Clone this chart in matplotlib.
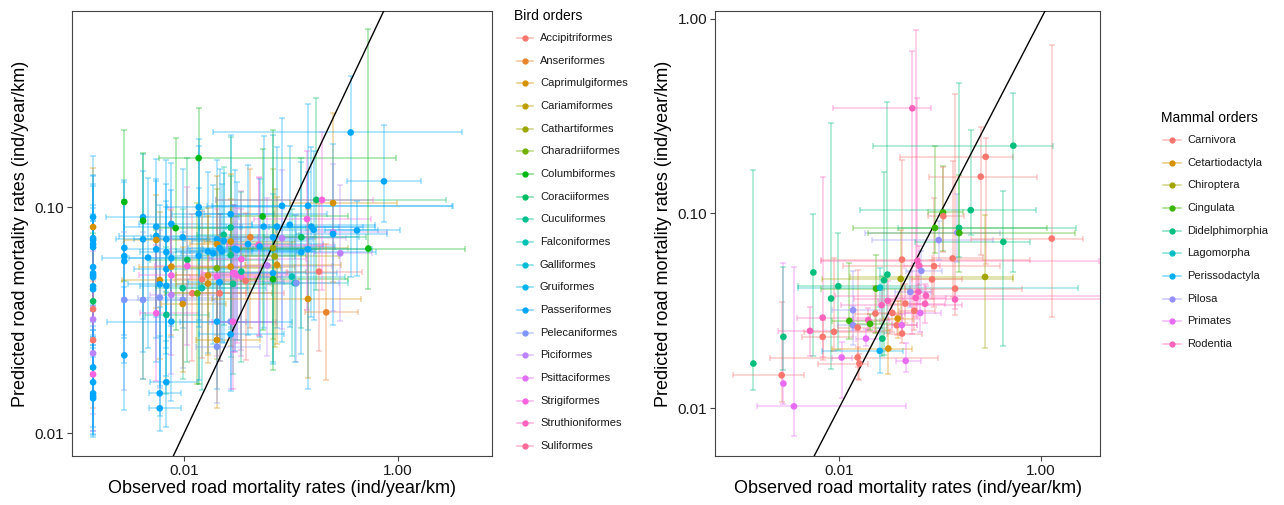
import numpy as np
import matplotlib.pyplot as plt
from matplotlib.lines import Line2D

plt.rcParams['font.family'] = ['Liberation Sans', 'DejaVu Sans']

W, H = 1284, 505

bird_orders = ['Accipitriformes', 'Anseriformes', 'Caprimulgiformes', 'Cariamiformes',
               'Cathartiformes', 'Charadriiformes', 'Columbiformes', 'Coraciiformes',
               'Cuculiformes', 'Falconiformes', 'Galliformes', 'Gruiformes',
               'Passeriformes', 'Pelecaniformes', 'Piciformes', 'Psittaciformes',
               'Strigiformes', 'Struthioniformes', 'Suliformes']
mammal_orders = ['Carnivora', 'Cetartiodactyla', 'Chiroptera', 'Cingulata',
                 'Didelphimorphia', 'Lagomorpha', 'Perissodactyla', 'Pilosa',
                 'Primates', 'Rodentia']

# all rates are log10(ind/year/km); errors are in decades below / above the estimate

# birds with no observed variation (leftmost column)
bird_floor_obs = -2.85
bird_floor_order = [12, 2, 12, 12, 12, 12, 12, 12, 12, 12, 12, 12, 7, 0, 14, 0, 14, 12, 16, 12, 12, 12, 12]
bird_floor_pred = [-1.044, -1.088, -1.137, -1.146, -1.164, -1.177, -1.265, -1.292, -1.301, -1.310,
                   -1.350, -1.363, -1.416, -1.451, -1.496, -1.588, -1.646, -1.708, -1.739, -1.774,
                   -1.823, -1.836, -1.845]
bird_floor_pred_lo = [.30, .28, .32, .30, .27, .33, .30, .28, .32, .30, .26, .30, .30, .28, .25, .30,
                      .27, .28, .25, .20, .18, .17, .17]
bird_floor_pred_hi = [.27, .26, .28, .25, .30, .27, .26, .30, .24, .28, .26, .30, .30, .28, .30, .26,
                      .30, .27, .30, .25, .28, .26, .30]

# remaining birds
bird_order = [6, 12, 12, 12, 13, 12, 12, 6, 12, 13,
              12, 12, 12, 2, 12, 16, 2, 12, 13, 12,
              12, 12, 12, 12, 12, 8, 12, 12, 12, 2,
              16, 14, 12, 6, 12, 8, 13, 2, 7, 16,
              0, 5, 6, 12, 12, 12, 9, 0, 12, 2,
              2, 12, 12, 2, 5, 16, 12, 2, 13, 12,
              12, 0, 12, 8, 12, 12, 8, 2, 8, 2,
              12, 13, 16, 8, 16, 12, 16, 12, 16, 16,
              16, 8, 0, 12, 1, 16, 17, 12, 6, 12,
              14, 12, 4, 12, 6, 4, 12, 2, 12, 14,
              12, 9, 9, 13, 7, 12, 12, 12, 2, 16,
              12, 12, 7, 0, 16, 1, 2, 14, 12, 14,
              12, 12, 6, 12]
bird_obs = [-2.558, -2.558, -2.558, -2.558, -2.558, -2.558, -2.383, -2.383, -2.383, -2.383,
            -2.336, -2.259, -2.259, -2.259, -2.259, -2.259, -2.227, -2.227, -2.227, -2.227,
            -2.227, -2.165, -2.165, -2.165, -2.165, -2.165, -2.165, -2.118, -2.118, -2.118,
            -2.118, -2.118, -2.118, -2.078, -2.012, -2.012, -2.012, -2.012, -1.969, -1.969,
            -1.922, -1.875, -1.863, -1.863, -1.863, -1.863, -1.832, -1.832, -1.776, -1.776,
            -1.776, -1.726, -1.692, -1.692, -1.692, -1.692, -1.692, -1.692, -1.692, -1.667,
            -1.667, -1.667, -1.645, -1.629, -1.629, -1.564, -1.564, -1.564, -1.564, -1.564,
            -1.564, -1.564, -1.542, -1.542, -1.542, -1.526, -1.526, -1.505, -1.505, -1.464,
            -1.464, -1.464, -1.424, -1.402, -1.380, -1.302, -1.302, -1.293, -1.265, -1.255,
            -1.221, -1.168, -1.168, -1.168, -1.168, -1.153, -1.131, -1.131, -1.084, -1.084,
            -1.012, -0.991, -0.966, -0.950, -0.903, -0.903, -0.841, -0.841, -0.841, -0.850,
            -0.810, -0.788, -0.763, -0.738, -0.710, -0.670, -0.607, -0.607, -0.607, -0.539,
            -0.442, -0.383, -0.277, -0.131]
bird_pred = [-0.977, -1.180, -1.217, -1.239, -1.410, -1.655, -1.044, -1.060, -1.142, -1.410,
             -1.223, -1.086, -1.127, -1.145, -1.186, -1.469, -1.322, -1.341, -1.400, -1.823,
             -1.889, -1.142, -1.199, -1.274, -1.348, -1.476, -1.774, -1.074, -1.226, -1.263,
             -1.302, -1.388, -1.506, -1.093, -1.133, -1.358, -1.410, -1.428, -1.233, -1.260,
             -1.381, -1.381, -0.783, -1.000, -1.029, -1.215, -1.358, -1.319, -1.196, -1.302,
             -1.338, -1.204, -1.142, -1.164, -1.270, -1.307, -1.506, -1.587, -1.617, -1.181,
             -1.332, -1.381, -1.196, -1.122, -1.149, -1.031, -1.090, -1.152, -1.212, -1.263,
             -1.562, -1.506, -1.292, -1.339, -1.506, -1.184, -1.292, -1.189, -1.302, -1.230,
             -1.307, -1.285, -1.326, -1.164, -1.133, -1.167, -1.171, -1.174, -1.041, -1.086,
             -1.258, -1.133, -1.181, -1.292, -1.319, -1.218, -1.086, -1.255, -0.994, -1.137,
             -1.078, -1.307, -1.336, -1.336, -1.133, -1.199, -0.994, -1.186, -1.406, -1.053,
             -1.086, -1.100, -0.968, -1.285, -0.968, -1.465, -0.982, -1.111, -1.119, -1.204,
             -0.670, -1.103, -1.183, -0.886]
bird_obs_lo = [0, 0, 0, 0, 0, 0, .35, 0, .25, .20,
               .43, .30, .35, .30, .30, .15, .35, .30, .20, .10,
               .10, .30, .25, .30, .25, .20, .15, .30, .40, .30,
               .30, .20, .60, .20, .30, .25, .15, .20, .35, .30,
               .20, .30, .37, .30, .25, .30, .20, .25, .30, .30,
               .30, .30, .30, .25, .30, .25, .35, .20, .20, .30,
               .30, .25, .30, .25, .30, .25, .30, .25, .30, .30,
               .30, .20, .30, .30, .20, .30, .30, .35, .30, .30,
               .25, .30, .20, .30, .30, .30, .30, .35, .30, .35,
               .25, .40, .30, .30, .30, .30, .35, .30, .70, .30,
               .35, .30, .30, .25, .35, .30, .90, .30, .90, .50,
               .40, .35, .94, .30, .99, .20, .40, .30, .35, .25,
               1.29, .30, 1.30, .35]
bird_obs_hi = [0, 0, 0, 0, 0, 0, .90, 0, .60, .40,
               .60, .80, .60, .50, .90, .40, .90, .70, .50, .20,
               .20, .70, .80, .60, .50, .40, .30, .75, .70, .65,
               .60, .45, .70, .50, .70, .60, .30, .40, .80, .70,
               .50, .70, 1.84, .80, .70, .90, .60, .50, 1.00, .60,
               .60, .80, .90, .70, .60, .60, .70, .40, .40, .80,
               .60, .60, .70, .70, .80, .90, .70, .60, .70, .60,
               .50, .40, .50, .60, .40, .80, .50, .70, .50, .60,
               .50, .60, .50, .70, .60, .70, .60, .70, .80, .70,
               .60, .80, .70, .60, .70, .60, .80, .60, 1.60, .60,
               .80, .50, .50, .40, .60, .70, 1.35, .60, .50, .60,
               .60, .60, 1.21, .40, .48, .30, .60, .50, .50, .30,
               1.04, .40, .90, .35]
bird_pred_lo = [.35, .40, .35, .45, .40, .24, .45, .70, .50, .35,
                .40, .40, .45, .30, .50, .30, .35, .45, .40, .10,
                .10, .45, .45, .35, .40, .35, .20, .45, .35, .30,
                .35, .35, .35, .45, .40, .40, .30, .30, .45, .35,
                .30, .40, 1.00, .50, .50, .55, .45, .35, .45, .35,
                .35, .40, .45, .40, .40, .35, .30, .30, .25, .40,
                .35, .30, .40, .40, .45, .50, .45, .40, .45, .35,
                .25, .30, .35, .40, .30, .45, .35, .40, .30, .40,
                .35, .40, .35, .40, .40, .40, .40, .40, .50, .45,
                .40, .55, .40, .40, .40, .40, .45, .35, .60, .40,
                .45, .35, .35, .35, .40, .45, .55, .62, .35, .40,
                .40, .40, .40, .35, .40, .30, .35, .35, .40, .30,
                .64, .20, .18, .18]
bird_pred_hi = [.32, .30, .25, .35, .30, .30, .28, .30, .30, .30,
                .35, .30, .25, .20, .30, .30, .30, .35, .30, .38,
                .32, .35, .30, .30, .35, .30, .40, .27, .30, .25,
                .30, .30, .30, .40, .30, .35, .30, .25, .45, .35,
                .35, .40, .22, .30, .30, .30, .35, .30, .35, .30,
                .30, .30, .35, .30, .35, .30, .30, .25, .30, .35,
                .30, .35, .30, .30, .30, .35, .40, .30, .35, .30,
                .35, .30, .30, .35, .30, .35, .30, .30, .30, .30,
                .30, .35, .30, .35, .30, .30, .30, .30, .30, .40,
                .30, .45, .35, .35, .66, .30, .35, .30, .39, .30,
                .35, .30, .30, .30, .35, .40, .45, .34, .40, .30,
                .35, .35, .45, .30, .30, .30, .40, .30, .40, .30,
                .25, .13, .97, .25]

# mammals
mammal_order = [4, 0, 8, 4, 8, 4, 9, 9, 0, 4,
                0, 4, 8, 3, 7, 7, 0, 0, 0, 8,
                9, 3, 0, 3, 5, 6, 9, 4, 4, 4,
                9, 1, 0, 1, 0, 2, 0, 8, 0, 0,
                8, 7, 9, 0, 9, 9, 9, 9, 7, 8,
                9, 9, 0, 0, 3, 7, 3, 0, 0, 0,
                9, 7, 4, 3, 4, 0, 0, 2, 4, 4, 0]
mammal_obs = [-2.848, -2.568, -2.551, -2.551, -2.446, -2.254, -2.287, -2.162, -2.162, -2.079,
              -2.050, -2.007, -1.974, -1.898, -1.861, -1.861, -1.815, -1.815, -1.798, -1.733,
              -1.710, -1.693, -1.640, -1.634, -1.594, -1.597, -1.578, -1.571, -1.554, -1.521,
              -1.518, -1.512, -1.472, -1.419, -1.429, -1.389, -1.376, -1.379, -1.376, -1.343,
              -1.340, -1.294, -1.274, -1.254, -1.241, -1.224, -1.215, -1.205, -1.185, -1.195,
              -1.149, -1.139, -1.079, -1.059, -1.050, -1.013, -0.970, -0.967, -0.875, -0.851,
              -0.851, -0.828, -0.812, -0.809, -0.696, -0.597, -0.548, -0.554, -0.373, -0.274, 0.106]
mammal_pred = [-1.771, -1.831, -1.874, -1.634, -1.991, -1.303, -1.603, -1.535, -1.634, -1.437,
               -1.608, -1.374, -1.740, -1.552, -1.497, -1.574, -1.586, -1.740, -1.771, -1.643,
               -1.548, -1.567, -1.514, -1.386, -1.381, -1.706, -1.471, -1.643, -1.343, -1.314,
               -1.449, -1.694, -1.511, -1.540, -1.574, -1.336, -1.237, -1.574, -1.617, -1.463,
               -1.757, -1.403, -0.460, -1.500, -1.434, -1.243, -1.403, -1.269, -1.295, -1.511,
               -1.464, -1.422, -1.339, -1.271, -1.074, -1.137, -0.995, -1.014, -1.231, -1.386,
               -1.442, -1.098, -1.074, -1.100, -0.983, -0.811, -0.709, -1.326, -1.146, -0.652, -1.129]
mammal_obs_lo = [0, .478, 0, 0, .369, 0, .313, .257, .200, 0,
                 .300, .396, .100, .175, .210, .150, .200, .868, .407, .100,
                 .150, .200, .200, .540, .810, .575, .400, 0, 0, 0,
                 .100, .561, .150, .150, .100, .783, .800, .100, .150, .150,
                 .100, .150, .789, .150, .200, .950, .100, .150, .150, .150,
                 .150, .900, .200, .900, .815, .660, .150, .150, .200, .500,
                 1.000, .910, .600, .900, 1.100, .510, .850, 1.340, .875, 1.393, .800]
mammal_obs_hi = [0, .221, 0, 0, 1.106, 0, .792, .469, .300, 0,
                 .500, .800, .100, .300, .270, .200, .300, .798, .088, .150,
                 .200, .300, .250, .340, 1.960, .234, .800, 0, 0, 0,
                 .150, .231, .200, .150, .200, 1.115, 1.270, .150, .200, .200,
                 .150, .200, .185, .200, .300, 1.800, .150, .200, .200, .200,
                 .200, 2.000, .300, .650, 1.106, .540, .200, .200, .300, .666,
                 1.600, .420, 1.160, 1.150, .646, .554, .270, .280, .264, .396, .313]
mammal_pred_lo = [.134, .137, .106, .171, .154, .430, .130, .202, .120, .360,
                  .100, .329, .206, .091, .100, .100, .262, .050, .086, .040,
                  .050, .030, .100, .230, .100, .113, .080, .090, .385, .300,
                  .100, .132, .100, .100, .050, .200, .380, .050, .050, .100,
                  .055, .080, 1.157, .100, .100, .300, .060, .100, .100, .100,
                  .100, .050, .100, .210, .130, .100, .200, .186, .200, .137,
                  .050, .150, .149, .200, .128, .400, .550, .365, .534, .648, .402]
mammal_pred_hi = [.994, .377, .622, .360, .717, .298, .123, .724, .086, .903,
                  .380, .275, .080, .295, .200, .100, .295, .055, .049, .050,
                  .060, .050, .140, .172, .100, .115, .080, .320, .554, .885,
                  .100, .094, .070, .090, .050, .250, .511, .060, .050, .100,
                  .092, .100, .296, .100, 1.377, .838, .080, .100, .100, .100,
                  .100, .050, .100, .350, .420, .100, .240, .255, .500, .998,
                  .050, .200, .746, .300, .411, .253, .097, .320, .263, .269, .995]


def hue_pal(n, c=100, l=65):
    # ggplot2 default discrete palette (HCL hues, CIE-LUV -> sRGB)
    xn, yn, zn = 95.047, 100.0, 108.883
    d = xn + 15 * yn + 3 * zn
    un, vn = 4 * xn / d, 9 * yn / d
    m = np.array([[3.240479, -1.537150, -0.498535],
                  [-0.969256, 1.875992, 0.041556],
                  [0.055648, -0.204043, 1.057311]])
    cols = []
    for h in np.linspace(15, 375, n + 1)[:n]:
        hr = np.deg2rad(h)
        u = c * np.cos(hr) / (13 * l) + un
        v = c * np.sin(hr) / (13 * l) + vn
        y = yn * ((l + 16) / 116) ** 3
        x = 9 * y * u / (4 * v)
        z = -x / 3 - 5 * y + 3 * y / v
        rgb = m @ np.array([x, y, z]) / 100
        rgb = np.where(rgb > 0.0031308, 1.055 * np.clip(rgb, 0, None) ** (1 / 2.4) - 0.055, 12.92 * rgb)
        cols.append(tuple(np.clip(rgb, 0, 1)))
    return cols


def draw_panel(ax, obs, pred, olo, ohi, plo, phi, orders, cols):
    obs, pred = np.asarray(obs, float), np.asarray(pred, float)
    olo, ohi = np.asarray(olo, float), np.asarray(ohi, float)
    plo, phi = np.asarray(plo, float), np.asarray(phi, float)
    x, y = 10 ** obs, 10 ** pred
    for i in range(len(x)):
        col = cols[orders[i]]
        ax.errorbar(x[i], y[i], yerr=[[y[i] - 10 ** (pred[i] - plo[i])], [10 ** (pred[i] + phi[i]) - y[i]]],
                    fmt='none', ecolor=col, alpha=0.38, elinewidth=1.1, capsize=2.5, capthick=1.1)
        if olo[i] + ohi[i] > 0:
            ax.errorbar(x[i], y[i], xerr=[[x[i] - 10 ** (obs[i] - olo[i])], [10 ** (obs[i] + ohi[i]) - x[i]]],
                        fmt='none', ecolor=col, alpha=0.38, elinewidth=1.1, capsize=2.5, capthick=1.1)
    return x, y


def style_axis(ax, xlim, ylim, yticks):
    ax.set_xscale('log')
    ax.set_yscale('log')
    ax.plot([1e-4, 10], [1e-4, 10], color='black', lw=1, zorder=4)
    ax.set_xlim(xlim)
    ax.set_ylim(ylim)
    ax.minorticks_off()
    ax.set_xticks([0.01, 1.0])
    ax.set_xticklabels(['0.01', '1.00'])
    ax.set_yticks(yticks)
    ax.set_yticklabels(['%.2f' % t for t in yticks])
    ax.tick_params(length=3.5, width=0.8, color='#444444', labelsize=11, labelcolor='#1a1a1a', pad=2)
    for s in ax.spines.values():
        s.set_color('#444444')
        s.set_linewidth(0.8)
    ax.set_xlabel('Observed road mortality rates (ind/year/km)', fontsize=13, labelpad=2)
    ax.set_ylabel('Predicted road mortality rates (ind/year/km)', fontsize=13, labelpad=4)


def draw_legend(fig, title, names, cols, tx, ty, y0, kx0, kx1, textx):
    fig.text(tx / W, 1 - ty / H, title, fontsize=10, va='center', ha='left', color='black')
    for i, (name, col) in enumerate(zip(names, cols)):
        yy = 1 - (y0 + i * 22.67) / H
        fig.add_artist(Line2D([kx0 / W, kx1 / W], [yy, yy], color=col, alpha=0.5, lw=1.1))
        fig.add_artist(Line2D([(kx0 + kx1) / 2 / W], [yy], color=col, marker='o', markersize=3.5, lw=0))
        fig.text(textx / W, yy, name, fontsize=8, va='center', ha='left', color='#1a1a1a')


bird_cols = hue_pal(len(bird_orders))
mammal_cols = hue_pal(len(mammal_orders))

fig = plt.figure(figsize=(W / 100, H / 100), dpi=100)

ax1 = fig.add_axes([72 / W, 49 / H, 420 / W, 445 / H])
fx, fy = draw_panel(ax1, [bird_floor_obs] * len(bird_floor_pred), bird_floor_pred,
                    [0] * len(bird_floor_pred), [0] * len(bird_floor_pred),
                    bird_floor_pred_lo, bird_floor_pred_hi, bird_floor_order, bird_cols)
bx, by = draw_panel(ax1, bird_obs, bird_pred, bird_obs_lo, bird_obs_hi, bird_pred_lo, bird_pred_hi,
                    bird_order, bird_cols)
ax1.scatter(fx, fy, s=23, c=[bird_cols[o] for o in bird_floor_order], edgecolors='none', zorder=5)
ax1.scatter(bx, by, s=23, c=[bird_cols[o] for o in bird_order], edgecolors='none', zorder=5)
style_axis(ax1, (10 ** -3.047, 10 ** 0.879), (10 ** -2.10, 10 ** -0.133), [0.01, 0.1])

ax2 = fig.add_axes([715 / W, 49 / H, 385 / W, 445 / H])
mx, my = draw_panel(ax2, mammal_obs, mammal_pred, mammal_obs_lo, mammal_obs_hi,
                    mammal_pred_lo, mammal_pred_hi, mammal_order, mammal_cols)
ax2.scatter(mx, my, s=23, c=[mammal_cols[o] for o in mammal_order], edgecolors='none', zorder=5)
style_axis(ax2, (10 ** -3.228, 10 ** 0.584), (10 ** -2.246, 10 ** 0.04), [0.01, 0.1, 1.0])

draw_legend(fig, 'Bird orders', bird_orders, bird_cols, 514, 16, 38, 517, 533, 540)
draw_legend(fig, 'Mammal orders', mammal_orders, mammal_cols, 1161, 118, 140, 1163, 1181, 1187)

fig.savefig('out.png', dpi=100)
